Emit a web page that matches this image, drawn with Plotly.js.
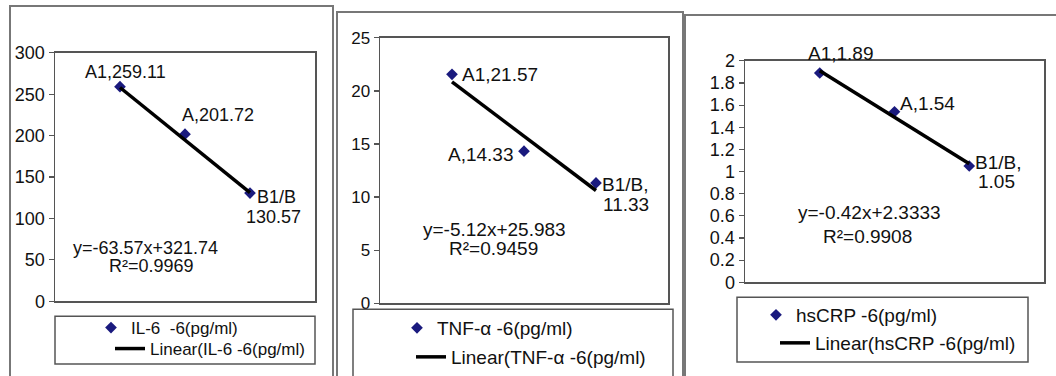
<!DOCTYPE html>
<html>
<head>
<meta charset="utf-8">
<script src="https://cdn.plot.ly/plotly-3.0.1.min.js"></script>
<style>html,body{margin:0;padding:0;background:#fff;}#chart{width:1056px;height:376px;}</style>
</head>
<body>
<div id="chart"></div>
<script>
// ---- data ----
const categories = [1, 2, 3];
const pointLabels = ['A1', 'A', 'B1/B'];
const il6 = [259.11, 201.72, 130.57];
const tnf = [21.57, 14.33, 11.33];
const hscrp = [1.89, 1.54, 1.05];
const trendX = [1, 3];
const il6Trend = [258.17, 131.03];
const tnfTrend = [20.86, 10.62];
const hscrpTrend = [1.91, 1.07];
const seriesNames = ['IL-6  -6(pg/ml)', 'TNF-α -6(pg/ml)', 'hsCRP -6(pg/ml)'];
const trendNames = ['Linear(IL-6 -6(pg/ml)', 'Linear(TNF-α -6(pg/ml)', 'Linear(hsCRP -6(pg/ml)'];
const equations = ['y=-63.57x+321.74', 'y=-5.12x+25.983', 'y=-0.42x+2.3333'];
const r2 = ['0.9969', '0.9459', '0.9908'];
const yTicks = [{range: [0, 300], dtick: 50}, {range: [0, 25], dtick: 5}, {range: [0, 2], dtick: 0.2}];

// ---- helpers ----
const W = 1056, H = 376;
const px = v => v / W;
const py = v => (H - v) / H;
const FONT = 'Liberation Sans, Arial, sans-serif';
const markerColor = '#1a1a7e';
const frameColor = '#555';

const seriesData = [il6, tnf, hscrp];
const trendData = [il6Trend, tnfTrend, hscrpTrend];
const traces = [];
for (let i = 0; i < 3; i++) {
  const sfx = i === 0 ? '' : String(i + 1);
  traces.push({
    x: categories, y: seriesData[i], type: 'scatter', mode: 'markers',
    name: seriesNames[i], xaxis: 'x' + sfx, yaxis: 'y' + sfx,
    marker: {symbol: 'diamond', size: 9, color: markerColor},
    legend: 'legend' + (i === 0 ? '' : String(2 * i + 1)),
    hoverinfo: 'skip'
  });
  traces.push({
    x: trendX, y: trendData[i], type: 'scatter', mode: 'lines',
    name: trendNames[i], xaxis: 'x' + sfx, yaxis: 'y' + sfx,
    line: {color: '#000', width: 3.5},
    legend: 'legend' + String(2 * i + 2),
    hoverinfo: 'skip'
  });
}

const plotBox = [
  {x: [55, 315], y: [53, 302]},
  {x: [380, 668], y: [38, 304]},
  {x: [745, 1044], y: [61, 283]}
];
const tickSizes = [18, 17, 18];
const annSizes = [18, 19, 19];
const legSizes = [17, 19, 19];

const layout = {
  width: W, height: H,
  margin: {l: 0, r: 0, t: 0, b: 0},
  paper_bgcolor: '#fff', plot_bgcolor: '#fff',
  font: {family: FONT, color: '#111'},
  showlegend: true,
  shapes: [], annotations: []
};

for (let i = 0; i < 3; i++) {
  const sfx = i === 0 ? '' : String(i + 1);
  const b = plotBox[i];
  layout['xaxis' + sfx] = {
    domain: [px(b.x[0]), px(b.x[1])], range: [0, 4], anchor: 'y' + sfx,
    showticklabels: false, ticks: '', showgrid: false, zeroline: false,
    showline: true, mirror: true, linecolor: frameColor, linewidth: 1.5, fixedrange: true
  };
  layout['yaxis' + sfx] = {
    domain: [py(b.y[1]), py(b.y[0])], range: yTicks[i].range, dtick: yTicks[i].dtick, tick0: 0,
    anchor: 'x' + sfx, ticks: 'outside', ticklen: 5, tickcolor: frameColor, tickwidth: 1.2,
    showgrid: false, zeroline: false, showline: true, mirror: true,
    linecolor: frameColor, linewidth: 1.5, fixedrange: true,
    tickfont: {family: FONT, size: tickSizes[i], color: '#111'}
  };
}

// legends (text start x, centre y)
const legPos = [
  [131, 328], [150, 349],
  [437, 328], [451, 358],
  [796, 315], [815, 343]
];
legPos.forEach((p, k) => {
  const key = 'legend' + (k === 0 ? '' : String(k + 1));
  layout[key] = {
    x: px(p[0] - 40), y: py(p[1]), xanchor: 'left', yanchor: 'middle',
    bgcolor: 'rgba(0,0,0,0)', borderwidth: 0,
    font: {family: FONT, size: legSizes[Math.floor(k / 2)], color: '#111'},
    tracegroupgap: 0, itemclick: false, itemdoubleclick: false
  };
});

// outer panel boxes and legend boxes
const outer = [[10, 6, 333, 382], [337, 12, 683, 382], [685, 15, 1062, 382]];
outer.forEach(o => layout.shapes.push({
  type: 'rect', xref: 'paper', yref: 'paper',
  x0: px(o[0]), x1: px(o[2]), y0: py(o[3]), y1: py(o[1]),
  line: {color: '#777', width: 2}
}));
const legBoxes = [[55, 317, 315, 365], [353, 310, 673, 382], [737, 298, 1028, 363]];
legBoxes.forEach(o => layout.shapes.push({
  type: 'rect', xref: 'paper', yref: 'paper',
  x0: px(o[0]), x1: px(o[2]), y0: py(o[3]), y1: py(o[1]),
  line: {color: frameColor, width: 1.5}
}));

// annotations (data labels, equations)
function ann(i, text, x, y, opts) {
  const sfx = i === 0 ? '' : String(i + 1);
  layout.annotations.push(Object.assign({
    xref: 'x' + sfx, yref: 'y' + sfx, x: x, y: y, text: text, showarrow: false,
    xanchor: 'center', yanchor: 'middle',
    font: {family: FONT, size: annSizes[i], color: '#111'}
  }, opts || {}));
}
// panel 1
ann(0, pointLabels[0] + ',' + il6[0].toFixed(2), 1.077, 277);
ann(0, pointLabels[1] + ',' + il6[1].toFixed(2), 2.508, 225.3);
ann(0, pointLabels[2], 3.415, 125.3);
ann(0, il6[2].toFixed(2), 3.354, 101.2);
ann(0, equations[0], 1.385, 63.9);
ann(0, 'R²=' + r2[0], 1.49, 42.2);
// panel 2
ann(1, pointLabels[0] + ',' + tnf[0].toFixed(2), 1.667, 21.52);
ann(1, pointLabels[1] + ',' + tnf[1].toFixed(2), 1.403, 14.0);
ann(1, pointLabels[2] + ',', 3.40, 11.18);
ann(1, tnf[2].toFixed(2), 3.417, 9.30);
ann(1, equations[1], 1.597, 6.955);
ann(1, 'R²=' + r2[1], 1.583, 5.17);
// panel 3 (first label sits above the frame: anchor on the point, shift up)
ann(2, pointLabels[0] + ',' + hscrp[0].toFixed(2), 1.284, hscrp[0], {yshift: 20});
ann(2, pointLabels[1] + ',' + hscrp[1].toFixed(2), 2.448, 1.613);
ann(2, pointLabels[2] + ',', 3.385, 1.081);
ann(2, hscrp[2].toFixed(2), 3.371, 0.910);
ann(2, equations[2], 1.672, 0.631);
ann(2, 'R²=' + r2[2], 1.645, 0.414);

Plotly.newPlot('chart', traces, layout, {displayModeBar: false, staticPlot: true});
</script>
</body>
</html>
